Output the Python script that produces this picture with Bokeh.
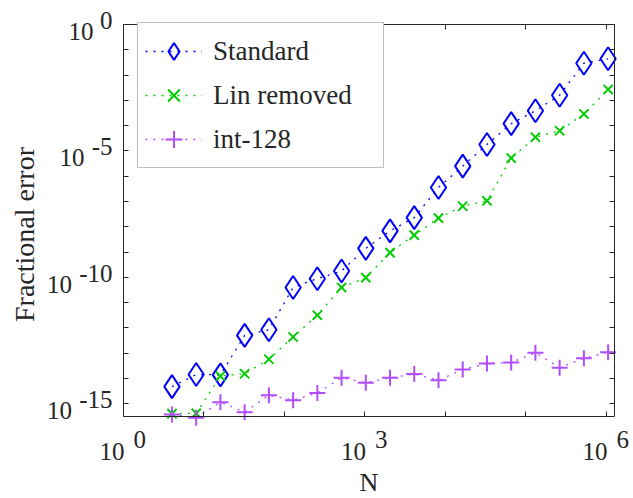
import math
from bokeh.plotting import figure
from bokeh.models import (FixedTicker, LogAxis, Label, Legend, LegendItem,
                          CustomJSTickFormatter)
from bokeh.embed import file_html
from bokeh.resources import INLINE

# ---- data ----
N = [4, 8, 16, 32, 64, 128, 256, 512, 1024, 2048, 4096, 8192, 16384,
     32768, 65536, 131072, 262144, 524288, 1048576]
standard = [4.8e-15, 1.45e-14, 1.4e-14, 5.1e-13, 8.5e-13, 4.0e-11, 8.9e-11,
            1.8e-10, 1.4e-9, 6.9e-9, 2.3e-8, 3.6e-7, 2.5e-6, 1.8e-5, 1.2e-4,
            3.9e-4, 1.6e-3, 2.95e-2, 4.4e-2]
lin_removed = [4.1e-16, 4.2e-16, 1.26e-14, 1.55e-14, 5.8e-14, 4.4e-13, 3.2e-12,
               4.0e-11, 9.8e-11, 9.5e-10, 4.7e-9, 2.2e-8, 6.5e-8, 1.07e-7,
               5.2e-6, 3.5e-5, 6.3e-5, 2.9e-4, 2.7e-3]
int128 = [3.8e-16, 2.8e-16, 1.17e-15, 4.7e-16, 2.2e-15, 1.4e-15, 2.7e-15,
          1.07e-14, 6.8e-15, 1.07e-14, 1.5e-14, 8.5e-15, 2.3e-14, 3.9e-14,
          4.3e-14, 1.05e-13, 2.7e-14, 6.3e-14, 1.1e-13]
series_names = ["Standard", "Lin removed", "int-128"]
x_label_exps = [0, 3, 6]
y_label_exps = [0, -5, -10, -15]
x_tick_exps = list(range(0, 7))
y_tick_exps = list(range(-15, 1))
x_title = "N"
y_title = "Fractional error"

# ---- style / geometry ----
FONT = "Liberation Serif"
AX = "#262626"
BLUE = "#0000FF"
GREEN = "#00CC00"
PURPLE = "#B24CFF"
W, H = 633, 498
L, R, T, B = 123, 614, 24, 416          # axes box in canvas pixels
LX0, LX1 = 0.0, 6.1                      # log10 x limits of the box
LY0, LY1 = -15.5, 0.0                    # log10 y limits of the box
kx = (R - L) / (LX1 - LX0)
ky = (B - T) / (LY1 - LY0)
XMIN, XMAX = 10 ** LX0, 10 ** LX1
YMIN, YMAX = 10 ** LY0, 10 ** LY1

p = figure(width=W, height=H, x_axis_type="log", y_axis_type="log",
           x_range=(10 ** (LX0 - L / kx), 10 ** (LX1 + (W - R) / kx)),
           y_range=(10 ** (LY0 - (H - B) / ky), 10 ** (LY1 + T / ky)),
           output_backend="svg", toolbar_location=None, min_border=0)
p.grid.visible = False
p.outline_line_color = None
p.background_fill_color = "white"
p.border_fill_color = "white"

bottom = p.xaxis[0]
left = p.yaxis[0]
top = LogAxis()
right = LogAxis()
p.add_layout(top, "above")
p.add_layout(right, "right")

for ax, loc, bnds, exps in ((bottom, YMIN, (XMIN, XMAX), x_tick_exps),
                            (top, YMAX, (XMIN, XMAX), x_tick_exps),
                            (left, XMIN, (YMIN, YMAX), y_tick_exps),
                            (right, XMAX, (YMIN, YMAX), y_tick_exps)):
    ax.fixed_location = loc
    ax.bounds = bnds
    ax.ticker = FixedTicker(ticks=[10.0 ** k for k in exps])
    ax.formatter = CustomJSTickFormatter(code="return '';")
    ax.major_label_text_font_size = "1px"
    ax.major_label_standoff = 0
    ax.major_tick_in = 5
    ax.major_tick_out = 0
    ax.minor_tick_in = 0
    ax.minor_tick_out = 0
    ax.axis_line_color = AX
    ax.axis_line_width = 1
    ax.major_tick_line_color = AX

# ---- data glyphs ----
DASH = "2 6"
l1 = p.line(N, standard, line_color=BLUE, line_dash=DASH, line_width=1.3)
s1 = p.scatter(N, standard, marker="diamond", size=23, fill_color=None,
               line_color=BLUE, line_width=2)
l2 = p.line(N, lin_removed, line_color=GREEN, line_dash=DASH, line_width=1.3)
s2 = p.scatter(N, lin_removed, marker="x", size=13, line_color=GREEN,
               line_width=2)
l3 = p.line(N, int128, line_color=PURPLE, line_dash=DASH, line_width=1.3)
s3 = p.scatter(N, int128, marker="cross", size=16, line_color=PURPLE,
               line_width=2)

# ---- tick labels: "10" with a raised exponent ----
FS = 25
BASE_FIX = 0.32  # bokeh's alphabetic baseline sits this many em lower


def sup_width(s):
    return sum(0.5 * FS if c.isdigit() else 0.36 * FS for c in s)


def lab(x, y, text, align, dx, dy, size=FS, angle=0.0):
    fix = BASE_FIX * size
    dx2, dy2 = (dx - fix, dy) if angle else (dx, dy + fix)
    p.add_layout(Label(x=x, y=y, text=text, text_align=align,
                       text_baseline="alphabetic", x_offset=dx2, y_offset=dy2,
                       angle=angle, text_font=FONT,
                       text_font_size=f"{size}px", text_color=AX))


for e in x_label_exps:
    lab(10.0 ** e, YMIN, "10", "right", 1, -43)
    lab(10.0 ** e, YMIN, str(e), "left", 10, -31)

for e in y_label_exps:
    s = str(e)
    lab(XMIN, 10.0 ** e, s, "right", -11, -4)
    lab(XMIN, 10.0 ** e, "10", "right", -11 - sup_width(s) - 6.5, -15)

# axis titles
xc = 10 ** ((LX0 + LX1) / 2)
yc = 10 ** ((LY0 + LY1) / 2)
lab(xc, YMIN, x_title, "center", 0, -74, size=26)
lab(XMIN, yc, y_title, "center", -90, -14, size=28, angle=math.pi / 2)

# ---- legend ----
LEG_H = 144
legend = Legend(items=[LegendItem(label=series_names[0], renderers=[l1, s1]),
                       LegendItem(label=series_names[1], renderers=[l2, s2]),
                       LegendItem(label=series_names[2], renderers=[l3, s3])],
                location=(137, H - T - LEG_H), orientation="vertical",
                glyph_width=57, glyph_height=42, label_height=42,
                label_width=163, label_standoff=11, spacing=2, padding=7,
                margin=0,
                label_text_font=FONT, label_text_font_size="27px",
                label_text_color=AX,
                border_line_color="#808080", border_line_width=1,
                background_fill_color="white", background_fill_alpha=1)
p.add_layout(legend)

open("out.html", "w").write(file_html(p, INLINE))
